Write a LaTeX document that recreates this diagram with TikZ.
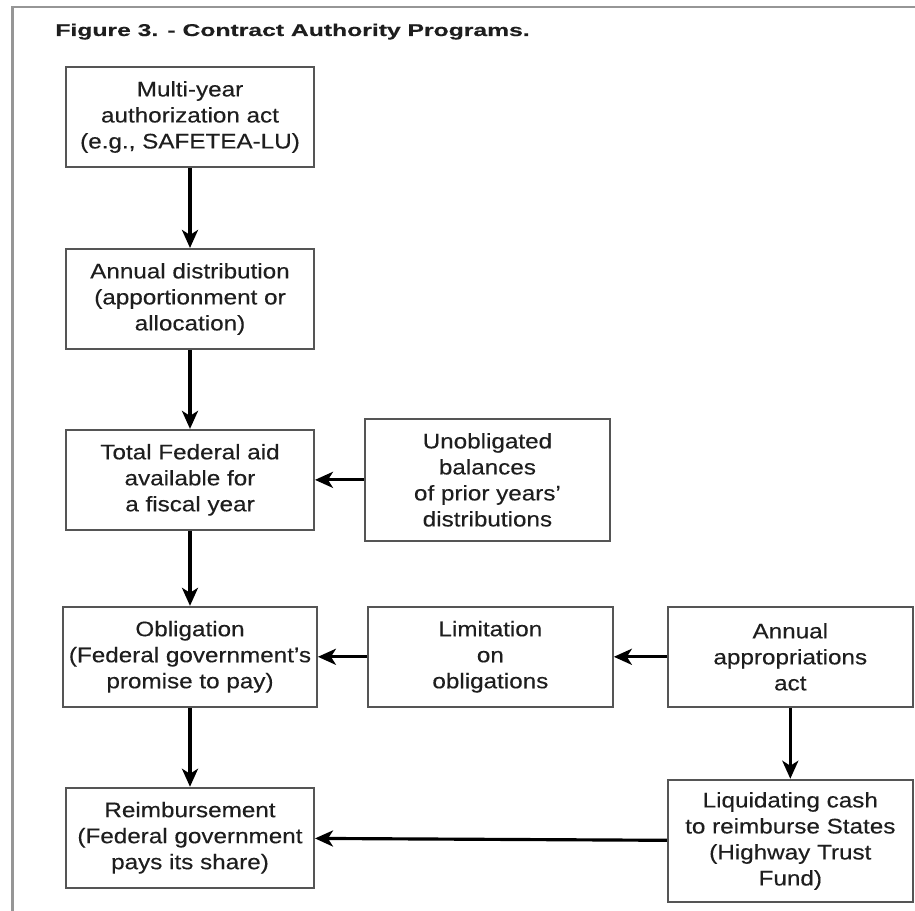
\documentclass[tikz,border=0pt]{standalone}
\usepackage{fontspec}
\setmainfont{Liberation Sans}[FakeStretch=1.15, FakeBold=0.3]
\usepackage{graphicx}
\usepackage{tikz}
\usetikzlibrary{arrows.meta, positioning}
\usepackage{xcolor}
\definecolor{boxline}{RGB}{85,85,85}
\definecolor{frameline}{RGB}{150,150,150}
\definecolor{inktext}{RGB}{30,30,30}

\begin{document}
\begin{tikzpicture}[
    box/.style={draw=boxline, line width=1.1pt, fill=white,
                minimum width=4.96cm, minimum height=2cm,
                align=center, text=inktext,
                font=\fontsize{12}{14.8}\selectfont},
    sidebox/.style={box, minimum width=4.9cm},
    tallbox/.style={sidebox, minimum height=2.45cm},
    arr/.style={-{Stealth[length=0.36cm, width=0.32cm, inset=0.1cm]}, line width=1.8pt, black},
  ]
    \useasboundingbox (0,0) rectangle (18.3,-18.22);
    % page frame
    \draw[frameline, line width=1.3pt] (0.25,-18.22) -- (0.25,-0.14) -- (18.3,-0.14);
    \node[anchor=base west, inner sep=0pt, text=inktext, font=\bfseries\fontsize{9.7}{11}\selectfont]
      (title) at (1.1,-0.72) {\scalebox{1.26}[1]{Figure 3. - Contract Authority Programs.}};

    \node[box] (auth) at (3.8,-2.34) {Multi-year\\authorization act\\(e.g., SAFETEA-LU)};
    \node[box, below=1.6cm of auth]    (dist)  {Annual distribution\\(apportionment or\\allocation)};
    \node[box, below=1.58cm of dist]   (total) {Total Federal aid\\available for\\a fiscal year};
    \node[box, below=1.5cm of total]   (oblig) {Obligation\\(Federal government's\\promise to pay)};
    \node[box, below=1.58cm of oblig]  (reimb) {Reimbursement\\(Federal government\\pays its share)};
    \node[tallbox, right=0.98cm of total]  (unob)   {Unobligated\\balances\\of prior years'\\distributions};
    \node[sidebox, right=0.98cm of oblig]  (limit)  {Limitation\\on\\obligations};
    \node[sidebox, right=1.06cm of limit]  (approp) {Annual\\appropriations\\act};
    \node[tallbox, below=1.42cm of approp] (liquid) {Liquidating cash\\to reimburse States\\(Highway Trust\\Fund)};

    \draw[arr] (auth) -- (dist);
    \draw[arr] (dist) -- (total);
    \draw[arr] (total) -- (oblig);
    \draw[arr] (oblig) -- (reimb);
    \draw[arr] (unob) -- (total);
    \draw[arr] (limit) -- (oblig);
    \draw[arr] (approp) -- (limit);
    \draw[arr] (approp) -- (liquid);
    \draw[arr] (liquid) -- (reimb);
  \end{tikzpicture}
\end{document}
